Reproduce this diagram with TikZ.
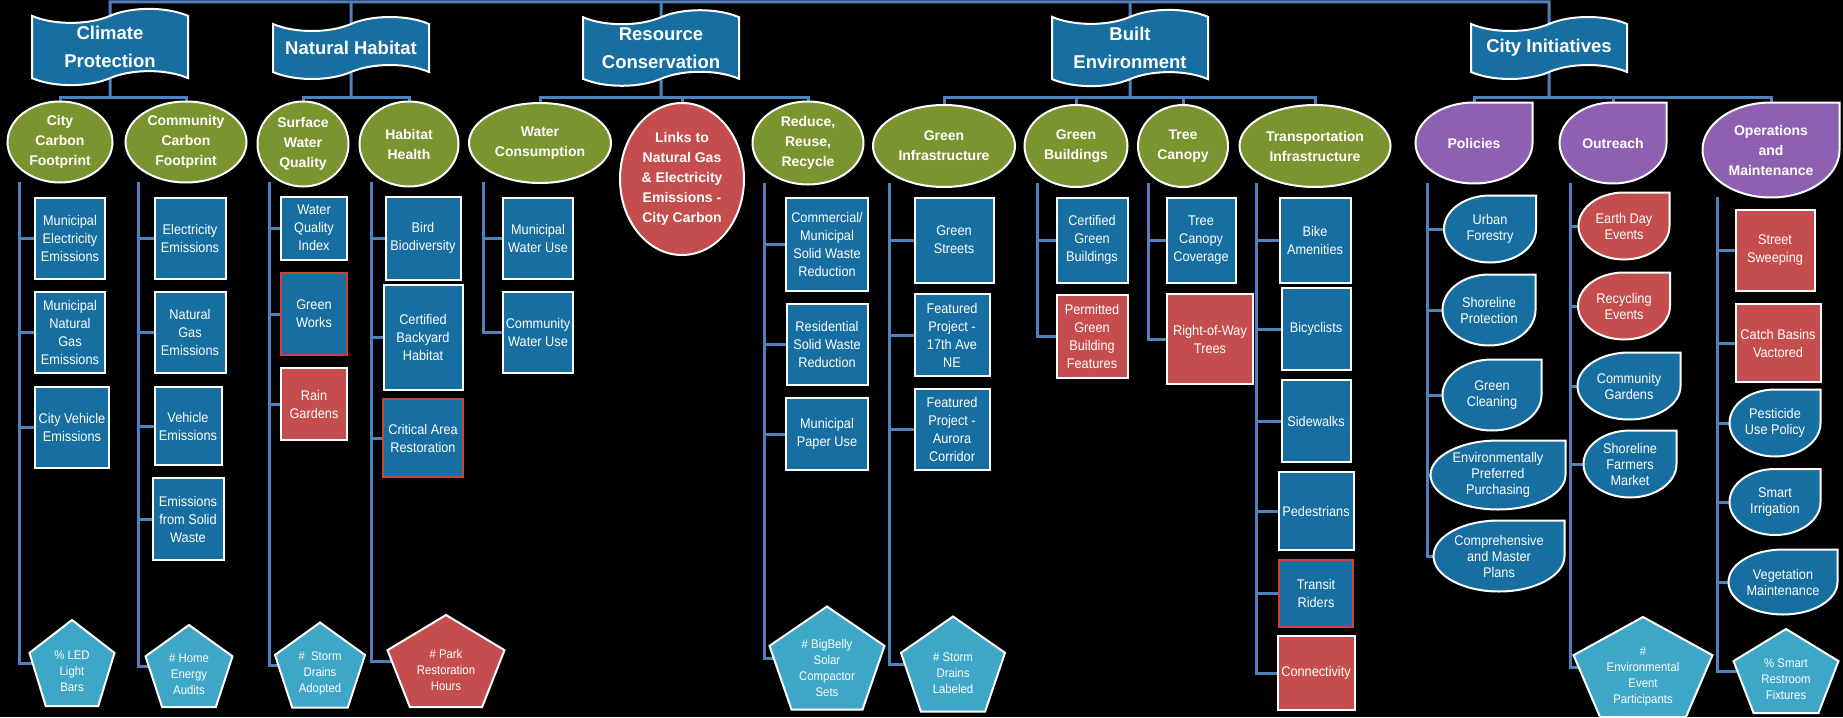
\documentclass[tikz,border=0pt]{standalone}
\usepackage{fontspec}
\setmainfont{Liberation Sans}
\newfontfamily\narrowfont{Liberation Sans}[FakeStretch=0.91]
\usepackage{tikz}
\usetikzlibrary{shapes.geometric, shapes.symbols, calc}

\definecolor{boxblue}{RGB}{23,110,160}
\definecolor{topicgreen}{RGB}{122,148,47}
\definecolor{boxred}{RGB}{198,77,77}
\definecolor{edgered}{RGB}{205,65,60}
\definecolor{groupviolet}{RGB}{142,96,178}
\definecolor{gaugecyan}{RGB}{62,166,199}
\definecolor{linkblue}{RGB}{79,129,189}

\pgfdeclarelayer{back}
\pgfdeclarelayer{lines}
\pgfsetlayers{back,lines,main}

\newcommand{\tear}[7][tearbox]{%
  \filldraw[fill=#6, draw=white, line width=2pt]
    ($(#3)+(#4/2,#5/2)$) -- ($(#3)+(#4/2,0)$)
    arc[start angle=0, end angle=-270, x radius=#4/2*1pt, y radius=#5/2*1pt] -- cycle;
  \node[#1, minimum width=#4, minimum height=#5] (#2) at (#3) {#7};
}
\newcommand{\gauge}[6]{%
  \filldraw[fill=#5, draw=white, line width=2pt]
    ($(#2)+(0,#4/2)$) -- ($(#2)+(#3/2,0.118*#4)$) -- ($(#2)+(0.309*#3,-#4/2)$)
    -- ($(#2)+(-0.309*#3,-#4/2)$) -- ($(#2)+(-#3/2,0.118*#4)$) -- cycle;
  \coordinate (#1) at (#2);
  \node[gaugebox] (#1Text) at ($(#2)+(0,-0.1*#4)$) {#6};
}

\begin{document}
\begin{tikzpicture}[x=1pt, y=1pt,
  link/.style={draw=linkblue, line width=3pt},
  banner/.style={tape, draw=white, line width=2pt, fill=boxblue, text=white, align=center,
    font=\bfseries\fontsize{18.5}{28}\selectfont, minimum width=156, minimum height=62,
    tape bend height=14pt},
  topic/.style={ellipse, draw=white, line width=2pt, fill=topicgreen, text=white, align=center,
    inner sep=0pt, font=\bfseries\fontsize{14}{20}\selectfont},
  leaf/.style={rectangle, draw=white, line width=2pt, fill=boxblue, text=white, align=center,
    inner sep=1pt, font=\narrowfont\fontsize{14}{18}\selectfont},
  redleaf/.style={leaf, fill=boxred},
  edgeleaf/.style={leaf, draw=edgered},
  tearbox/.style={text=white, align=center, inner sep=0pt, font=\narrowfont\fontsize{14}{16}\selectfont},
  topicdrop/.style={tearbox, font=\bfseries\fontsize{14}{20}\selectfont},
  gaugebox/.style={text=white, align=center, inner sep=0pt, font=\narrowfont\fontsize{12.5}{16}\selectfont}]

\useasboundingbox (0,0) rectangle (1843,-717);
\begin{pgfonlayer}{back}
\fill[black] (0,0) rectangle (1843,-717);
\end{pgfonlayer}

\node[banner] (climate) at (110,-47) {Climate\\Protection};
\node[banner] (natural) at (351,-48) {Natural Habitat};
\node[banner] (resource) at (661,-48) {Resource\\Conservation};
\node[banner] (built) at (1130,-48) {Built\\Environment};
\node[banner] (initiatives) at (1549,-48) {City Initiatives};

\node[topic, minimum width=105, minimum height=81] (cityCarbon) at (60,-142) {City\\Carbon\\Footprint};
\node[topic, minimum width=121, minimum height=81] (commCarbon) at (186,-142) {Community\\Carbon\\Footprint};
\node[topic, minimum width=91, minimum height=85] (surface) at (303,-144) {Surface\\Water\\Quality};
\node[topic, minimum width=99, minimum height=85] (habitat) at (409,-144) {Habitat\\Health};
\node[topic, minimum width=142, minimum height=80] (waterUse) at (540,-143) {Water\\Consumption};
\node[topic, fill=boxred, minimum width=124, minimum height=152] (links) at (682,-179) {Links to\\Natural Gas\\\& Electricity\\Emissions -\\City Carbon};
\node[topic, minimum width=111, minimum height=83] (reduce) at (808,-143) {Reduce,\\Reuse,\\Recycle};
\node[topic, minimum width=142, minimum height=82] (greenInfra) at (944,-146) {Green\\Infrastructure};
\node[topic, minimum width=103, minimum height=82] (greenBuild) at (1076,-146) {Green\\Buildings};
\node[topic, minimum width=90, minimum height=82] (canopy) at (1183,-146) {Tree\\Canopy};
\node[topic, minimum width=151, minimum height=82] (transport) at (1315,-146) {Transportation\\Infrastructure};
\tear[topicdrop]{policies}{1474,-143}{117}{81}{groupviolet}{Policies}
\tear[topicdrop]{outreach}{1613,-143}{107}{81}{groupviolet}{Outreach}
\tear[topicdrop]{operations}{1771,-150}{137}{95}{groupviolet}{Operations\\and\\Maintenance}

\node[leaf, minimum width=70, minimum height=81] (muniElec) at (70,-238) {Municipal\\Electricity\\Emissions};
\node[leaf, minimum width=70, minimum height=81] (muniGas) at (70,-332) {Municipal\\Natural\\Gas\\Emissions};
\node[leaf, minimum width=74, minimum height=81] (cityVehicle) at (72,-427) {City Vehicle\\Emissions};
\gauge{ledBars}{72,-663}{85}{86}{gaugecyan}{\% LED\\Light\\Bars}

\node[leaf, minimum width=71, minimum height=81] (elecEm) at (190,-238) {Electricity\\Emissions};
\node[leaf, minimum width=71, minimum height=81] (gasEm) at (190,-332) {Natural\\Gas\\Emissions};
\node[leaf, minimum width=67, minimum height=78] (vehicleEm) at (188,-426) {Vehicle\\Emissions};
\node[leaf, minimum width=71, minimum height=82] (solidEm) at (188,-519) {Emissions\\from Solid\\Waste};
\gauge{homeAudits}{189,-666}{87}{82}{gaugecyan}{\# Home\\Energy\\Audits}

\node[leaf, minimum width=66, minimum height=63] (qualityIndex) at (314,-228) {Water\\Quality\\Index};
\node[edgeleaf, minimum width=66, minimum height=82] (greenWorks) at (314,-314) {Green\\Works};
\node[redleaf, minimum width=66, minimum height=72] (rainGardens) at (314,-404) {Rain\\Gardens};
\gauge{drainsAdopted}{320,-665}{90}{85}{gaugecyan}{\#\ \ Storm\\Drains\\Adopted}

\node[leaf, minimum width=75, minimum height=83] (birds) at (423,-238) {Bird\\Biodiversity};
\node[leaf, minimum width=79, minimum height=105] (backyard) at (423,-337) {Certified\\Backyard\\Habitat};
\node[edgeleaf, minimum width=80, minimum height=78] (criticalArea) at (423,-438) {Critical Area\\Restoration};
\gauge{parkHours}{446,-661}{117}{92}{boxred}{\# Park\\Restoration\\Hours}

\node[leaf, minimum width=70, minimum height=81] (muniWater) at (538,-238) {Municipal\\Water Use};
\node[leaf, minimum width=70, minimum height=81] (commWater) at (538,-332) {Community\\Water Use};

\node[leaf, minimum width=82, minimum height=93] (commWaste) at (827,-244) {Commercial/\\Municipal\\Solid Waste\\Reduction};
\node[leaf, minimum width=81, minimum height=81] (resWaste) at (827,-344) {Residential\\Solid Waste\\Reduction};
\node[leaf, minimum width=82, minimum height=72] (paperUse) at (827,-434) {Municipal\\Paper Use};
\gauge{bigBelly}{827,-658}{115}{103}{gaugecyan}{\# BigBelly\\Solar\\Compactor\\Sets}

\node[leaf, minimum width=79, minimum height=85] (greenStreets) at (954,-240) {Green\\Streets};
\node[leaf, minimum width=75, minimum height=82] (aveNE) at (952,-335) {Featured\\Project -\\17th Ave\\NE};
\node[leaf, minimum width=75, minimum height=81] (aurora) at (952,-429) {Featured\\Project -\\Aurora\\Corridor};
\gauge{drainsLabeled}{953,-664}{104}{95}{gaugecyan}{\# Storm\\Drains\\Labeled}

\node[leaf, minimum width=71, minimum height=85] (certBuildings) at (1092,-240) {Certified\\Green\\Buildings};
\node[redleaf, minimum width=71, minimum height=83] (permitted) at (1092,-336) {Permitted\\Green\\Building\\Features};

\node[leaf, minimum width=69, minimum height=85] (canopyCover) at (1201,-240) {Tree\\Canopy\\Coverage};
\node[redleaf, minimum width=86, minimum height=90] (rowTrees) at (1210,-339) {Right-of-Way\\Trees};

\node[leaf, minimum width=71, minimum height=85] (bikeAmen) at (1315,-240) {Bike\\Amenities};
\node[leaf, minimum width=69, minimum height=82] (bicyclists) at (1316,-329) {Bicyclists};
\node[leaf, minimum width=69, minimum height=82] (sidewalks) at (1316,-421) {Sidewalks};
\node[leaf, minimum width=75, minimum height=78] (pedestrians) at (1316,-511) {Pedestrians};
\node[edgeleaf, minimum width=74, minimum height=67] (transit) at (1316,-593) {Transit\\Riders};
\node[redleaf, minimum width=77, minimum height=74] (connectivity) at (1316,-673) {Connectivity};

\tear{urbanForest}{1490,-229}{92}{67}{boxblue}{Urban\\Forestry}
\tear{shoreline}{1489,-310}{93}{71}{boxblue}{Shoreline\\Protection}
\tear{greenClean}{1492,-395}{99}{71}{boxblue}{Green\\Cleaning}
\tear{purchasing}{1498,-475}{135}{69}{boxblue}{Environmentally\\Preferred\\Purchasing}
\tear{masterPlans}{1499,-556}{131}{71}{boxblue}{Comprehensive\\and Master\\Plans}

\tear{earthDay}{1624,-226}{91}{67}{boxred}{Earth Day\\Events}
\tear{recycling}{1624,-306}{92}{67}{boxred}{Recycling\\Events}
\tear{commGardens}{1629,-386}{103}{67}{boxblue}{Community\\Gardens}
\tear{farmers}{1630,-464}{93}{67}{boxblue}{Shoreline\\Farmers\\Market}
\gauge{eventPeople}{1643,-667}{139}{100}{gaugecyan}{\#\\Environmental\\Event\\Participants}

\node[redleaf, minimum width=79, minimum height=81] (sweeping) at (1775,-250) {Street\\Sweeping};
\node[redleaf, minimum width=85, minimum height=78] (catchBasins) at (1778,-343) {Catch Basins\\Vactored};
\tear{pesticide}{1775,-423}{91}{67}{boxblue}{Pesticide\\Use Policy}
\tear{irrigation}{1775,-502}{91}{66}{boxblue}{Smart\\Irrigation}
\tear{vegetation}{1783,-582}{109}{65}{boxblue}{Vegetation\\Maintenance}
\gauge{restroom}{1786,-671}{105}{84}{gaugecyan}{\% Smart\\Restroom\\Fixtures}

\begin{pgfonlayer}{lines}
\coordinate (top) at (0,-2);
\coordinate (bar) at (0,-97);
\draw[link] (climate) |- (initiatives |- top) -- (initiatives);
\foreach \b in {natural, resource, built}
  \draw[link] (\b) -- (\b |- top);

\draw[link] (climate) -- (climate |- bar);
\draw[link] (cityCarbon) |- (commCarbon |- bar) -- (commCarbon);
\draw[link] (natural) -- (natural |- bar);
\draw[link] (surface) |- (habitat |- bar) -- (habitat);
\draw[link] (resource) -- (resource |- bar);
\draw[link] (waterUse) |- (reduce |- bar) -- (reduce);
\draw[link] (links) -- (links |- bar);
\draw[link] (built) -- (built |- bar);
\draw[link] (greenInfra) |- (transport |- bar) -- (transport);
\draw[link] (greenBuild) -- (greenBuild |- bar);
\draw[link] (canopy) -- (canopy |- bar);
\draw[link] (initiatives) -- (initiatives |- bar);
\draw[link] (policies) |- (operations |- bar) -- (operations);
\draw[link] (outreach) -- (outreach |- bar);

\coordinate (ccList) at (19,-182);
\coordinate (cfList) at (138,-182);
\coordinate (swList) at (269,-182);
\coordinate (hhList) at (371,-182);
\coordinate (wcList) at (483,-182);
\coordinate (rrList) at (764,-183);
\coordinate (giList) at (889,-183);
\coordinate (gbList) at (1037,-183);
\coordinate (tcList) at (1148,-183);
\coordinate (tiList) at (1256,-183);
\coordinate (poList) at (1427,-183);
\coordinate (orList) at (1570,-183);
\coordinate (omList) at (1717,-197);
\foreach \n in {muniElec, muniGas, cityVehicle, ledBars}
  \draw[link] (ccList) |- (\n);
\foreach \n in {elecEm, gasEm, vehicleEm, solidEm, homeAudits}
  \draw[link] (cfList) |- (\n);
\foreach \n in {qualityIndex, greenWorks, rainGardens, drainsAdopted}
  \draw[link] (swList) |- (\n);
\foreach \n in {birds, backyard, criticalArea, parkHours}
  \draw[link] (hhList) |- (\n);
\foreach \n in {muniWater, commWater}
  \draw[link] (wcList) |- (\n);
\foreach \n in {commWaste, resWaste, paperUse, bigBelly}
  \draw[link] (rrList) |- (\n);
\foreach \n in {greenStreets, aveNE, aurora, drainsLabeled}
  \draw[link] (giList) |- (\n);
\foreach \n in {certBuildings, permitted}
  \draw[link] (gbList) |- (\n);
\foreach \n in {canopyCover, rowTrees}
  \draw[link] (tcList) |- (\n);
\foreach \n in {bikeAmen, bicyclists, sidewalks, pedestrians, transit, connectivity}
  \draw[link] (tiList) |- (\n);
\foreach \n in {urbanForest, shoreline, greenClean, purchasing, masterPlans}
  \draw[link] (poList) |- (\n);
\foreach \n in {earthDay, recycling, commGardens, farmers, eventPeople}
  \draw[link] (orList) |- (\n);
\foreach \n in {sweeping, catchBasins, pesticide, irrigation, vegetation, restroom}
  \draw[link] (omList) |- (\n);
\end{pgfonlayer}
\end{tikzpicture}
\end{document}
